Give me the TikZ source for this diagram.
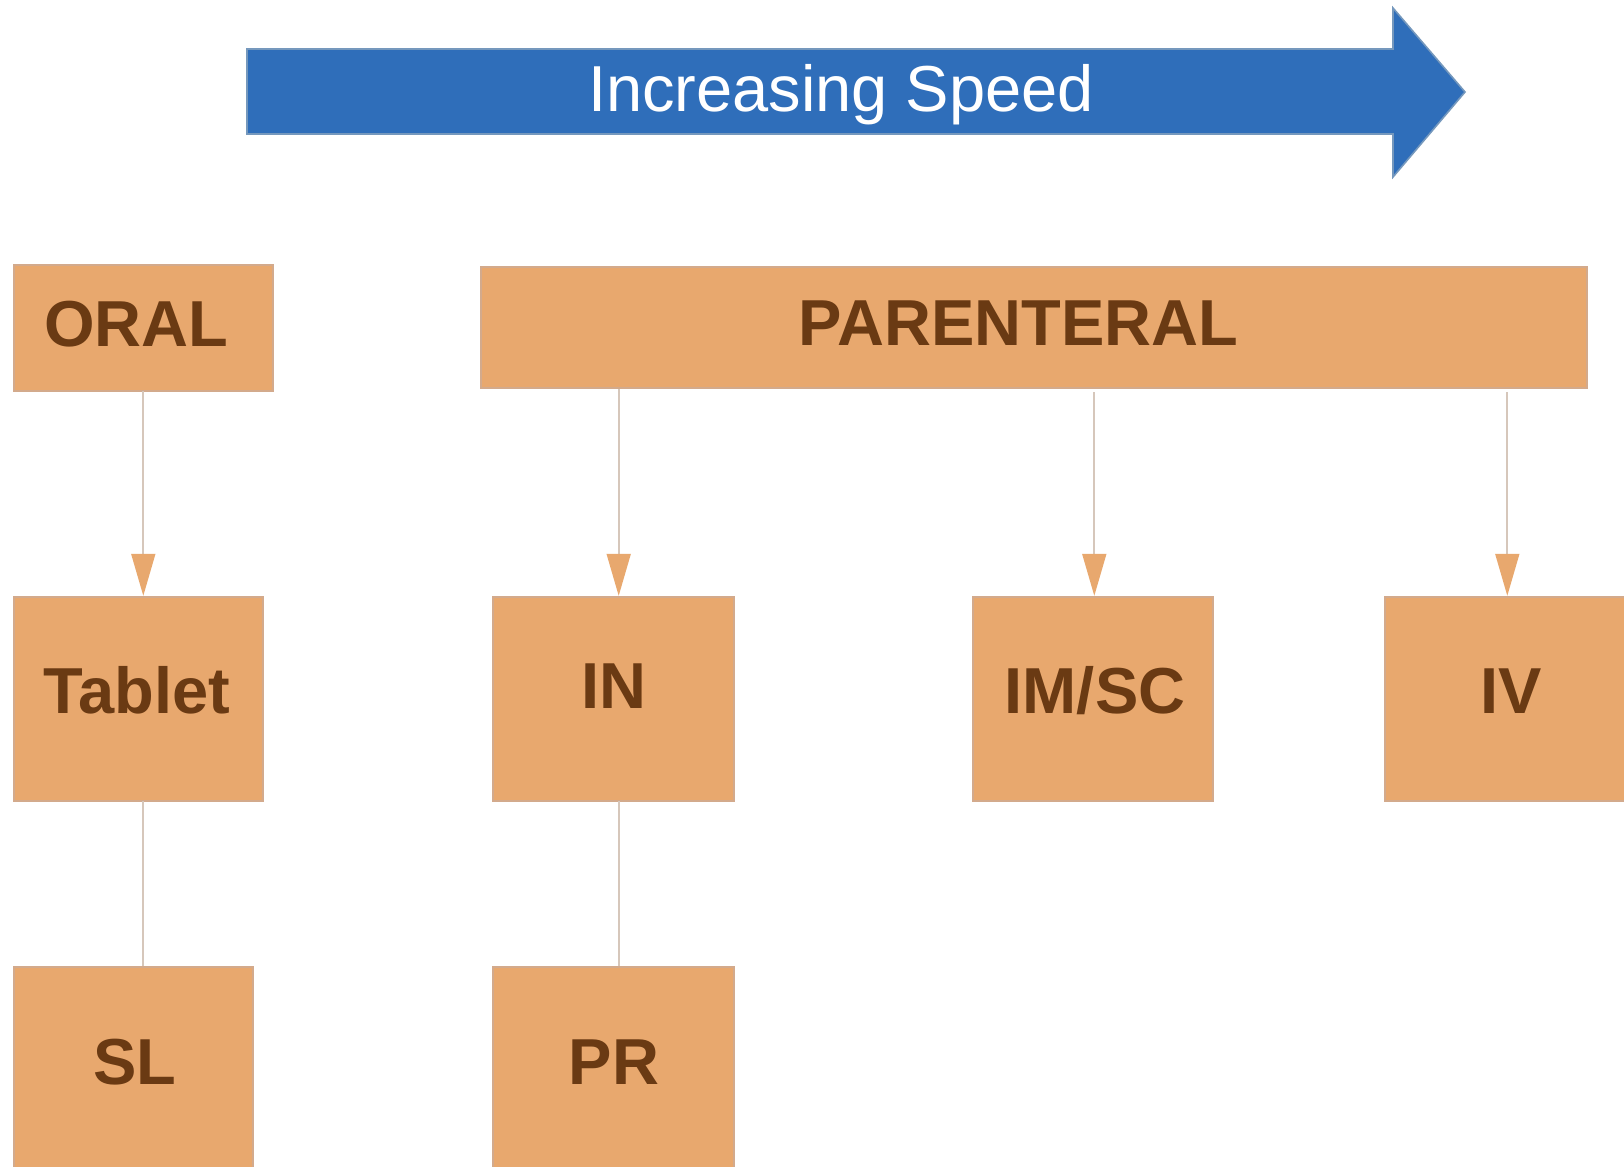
\documentclass[tikz,border=0pt]{standalone}
\usepackage{fontspec}
\setmainfont{Liberation Sans}
\usetikzlibrary{arrows.meta}
\definecolor{boxfill}{HTML}{E8A86E}
\definecolor{boxline}{HTML}{D3AA8C}
\definecolor{txtbrown}{HTML}{6A3A13}
\definecolor{conn}{HTML}{D6C7BB}
\definecolor{bluefill}{HTML}{2F6EBA}
\definecolor{blueline}{HTML}{7598BD}
\tikzset{
  box/.style={draw=boxline, fill=boxfill, line width=1.2pt, inner sep=0pt, rectangle},
  lbl/.style={anchor=base, text=txtbrown, font=\bfseries\fontsize{32.5}{36}\selectfont, inner sep=0pt},
  link/.style={draw=conn, line width=0.85pt},
  arrowlink/.style={link, -{Triangle[length=21pt, width=12pt, fill=boxfill, color=boxfill]}},
}
\begin{document}
\begin{tikzpicture}[x=0.5pt, y=-0.5pt]
\clip[use as bounding box] (0,0) rectangle (1624,1167);
\fill[white] (0,0) rectangle (1624,1167);

% speed arrow
\filldraw[fill=bluefill, draw=blueline, line width=0.8pt]
  (247,49) -- (1393,49) -- (1393,8) -- (1465,92) -- (1393,177) -- (1393,134) -- (247,134) -- cycle;
\node[anchor=base, text=white, font=\fontsize{32.5}{38}\selectfont, inner sep=0pt] (speed) at (841,112) {Increasing Speed};

% boxes
\node[box, minimum width=129.5pt, minimum height=63pt] (oral) at (143.5,328) {};
\node[box, minimum width=553pt, minimum height=60.5pt] (parent) at (1034,327.5) {};
\node[box, minimum width=124.5pt, minimum height=102pt] (tablet) at (138.5,699) {};
\node[box, minimum width=120.5pt, minimum height=102pt] (in) at (613.5,699) {};
\node[box, minimum width=120pt, minimum height=102pt] (imsc) at (1093,699) {};
\node[box, minimum width=126.5pt, minimum height=102pt] (iv) at (1511.5,699) {};
\node[box, minimum width=119.5pt, minimum height=102pt] (sl) at (133.5,1069) {};
\node[box, minimum width=120.5pt, minimum height=102pt] (pr) at (613.5,1069) {};

% labels
\node[lbl] (toral) at (136.5,346) {ORAL};
\node[lbl] (tparent) at (1018.5,345) {PARENTERAL};
\node[lbl] (ttablet) at (137,713) {Tablet};
\node[lbl] (tin) at (613.5,708) {IN};
\node[lbl] (timsc) at (1095,713) {IM/SC};
\node[lbl] (tiv) at (1511.5,713) {IV};
\node[lbl] (tsl) at (135,1084) {SL};
\node[lbl] (tpr) at (614,1084) {PR};

% connector start points
\coordinate (c1) at (143.3,391);
\coordinate (c2) at (618.7,389);
\coordinate (c3) at (1094.3,392);
\coordinate (c4) at (1507.3,392);
\coordinate (c5) at (143.3,801);
\coordinate (c6) at (618.7,801);

\draw[arrowlink] (c1) -- (c1 |- tablet.north);
\draw[arrowlink] (c2) -- (c2 |- in.north);
\draw[arrowlink] (c3) -- (c3 |- imsc.north);
\draw[arrowlink] (c4) -- (c4 |- iv.north);
\draw[link] (c5) -- (c5 |- sl.north);
\draw[link] (c6) -- (c6 |- pr.north);
\end{tikzpicture}
\end{document}
